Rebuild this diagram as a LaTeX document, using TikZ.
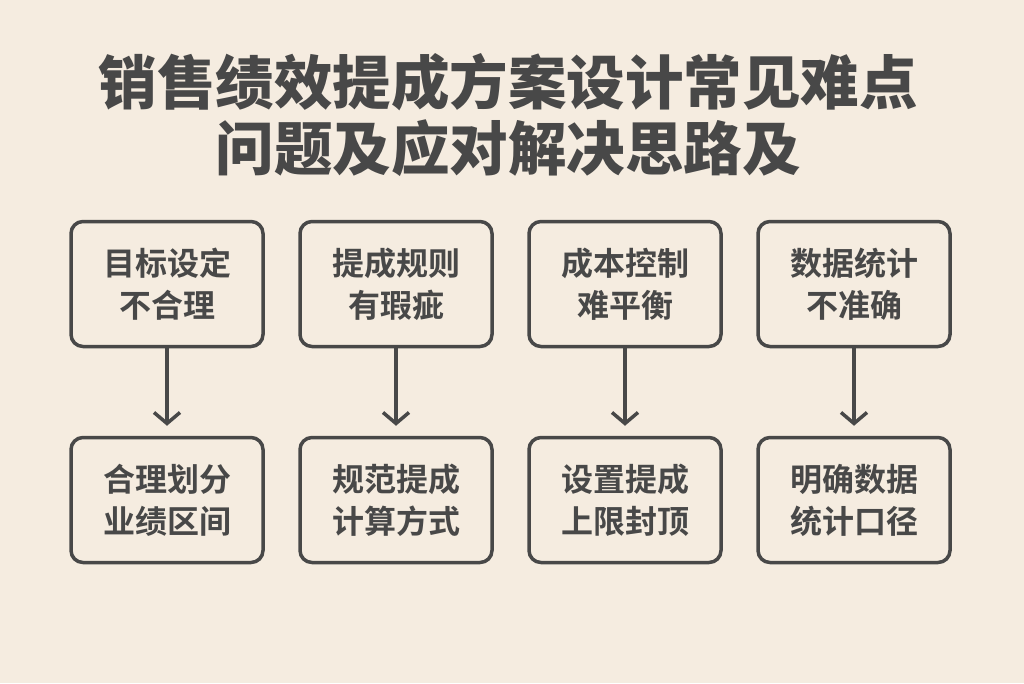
\documentclass[tikz,border=0pt]{standalone}
\usepackage{fontspec}
\newfontfamily\cjk{Noto Sans CJK SC Bold}
\newfontfamily\cjkhead{Noto Sans CJK SC Black}
\usetikzlibrary{positioning,arrows.meta}
\definecolor{paper}{HTML}{F5ECE0}
\definecolor{ink}{HTML}{484848}

\begin{document}
\begin{tikzpicture}[x=1pt,y=-1pt,node distance=216pt and 229pt,on grid,
        box/.style={draw=ink,line width=3.5pt,rounded corners=12pt,minimum width=192pt,minimum height=125pt,
                    align=center,text=ink,font=\cjk\fontsize{32}{42}\selectfont},
        flow/.style={color=ink,line width=3.5pt,-{Straight Barb[length=11pt,width=26pt]},shorten >=10pt}]
        \fill[paper] (0,0) rectangle (1024,683);
        \useasboundingbox (0,0) rectangle (1024,683);
        \node[text=ink,align=center,font=\cjkhead\fontsize{58.5}{66}\selectfont] (title) at (508,115)
             {销售绩效提成方案设计常见难点\\问题及应对解决思路及};
        \node[box] (p_1) at (167,284) {目标设定\\不合理};
\node[box] (p_2) [ right=of p_1] {提成规则\\有瑕疵};
        \node[box] (p_3) [ right=of p_2] {成本控制\\难平衡};
        \node[box] (p_4) [ right=of p_3] {数据统计\\不准确};
        \node[box] (s_1) [ below=of p_1] {合理划分\\业绩区间};
        \node[box] (s_2) [ below=of p_2] {规范提成\\计算方式};
        \node[box] (s_3) [ below=of p_3] {设置提成\\上限封顶};
        \node[box] (s_4) [ below=of p_4] {明确数据\\统计口径};
        \path[flow]
        (p_1) edge (s_1)
        (p_2) edge (s_2)
        (p_3) edge (s_3)
        (p_4) edge (s_4);
    \end{tikzpicture}
\end{document}
